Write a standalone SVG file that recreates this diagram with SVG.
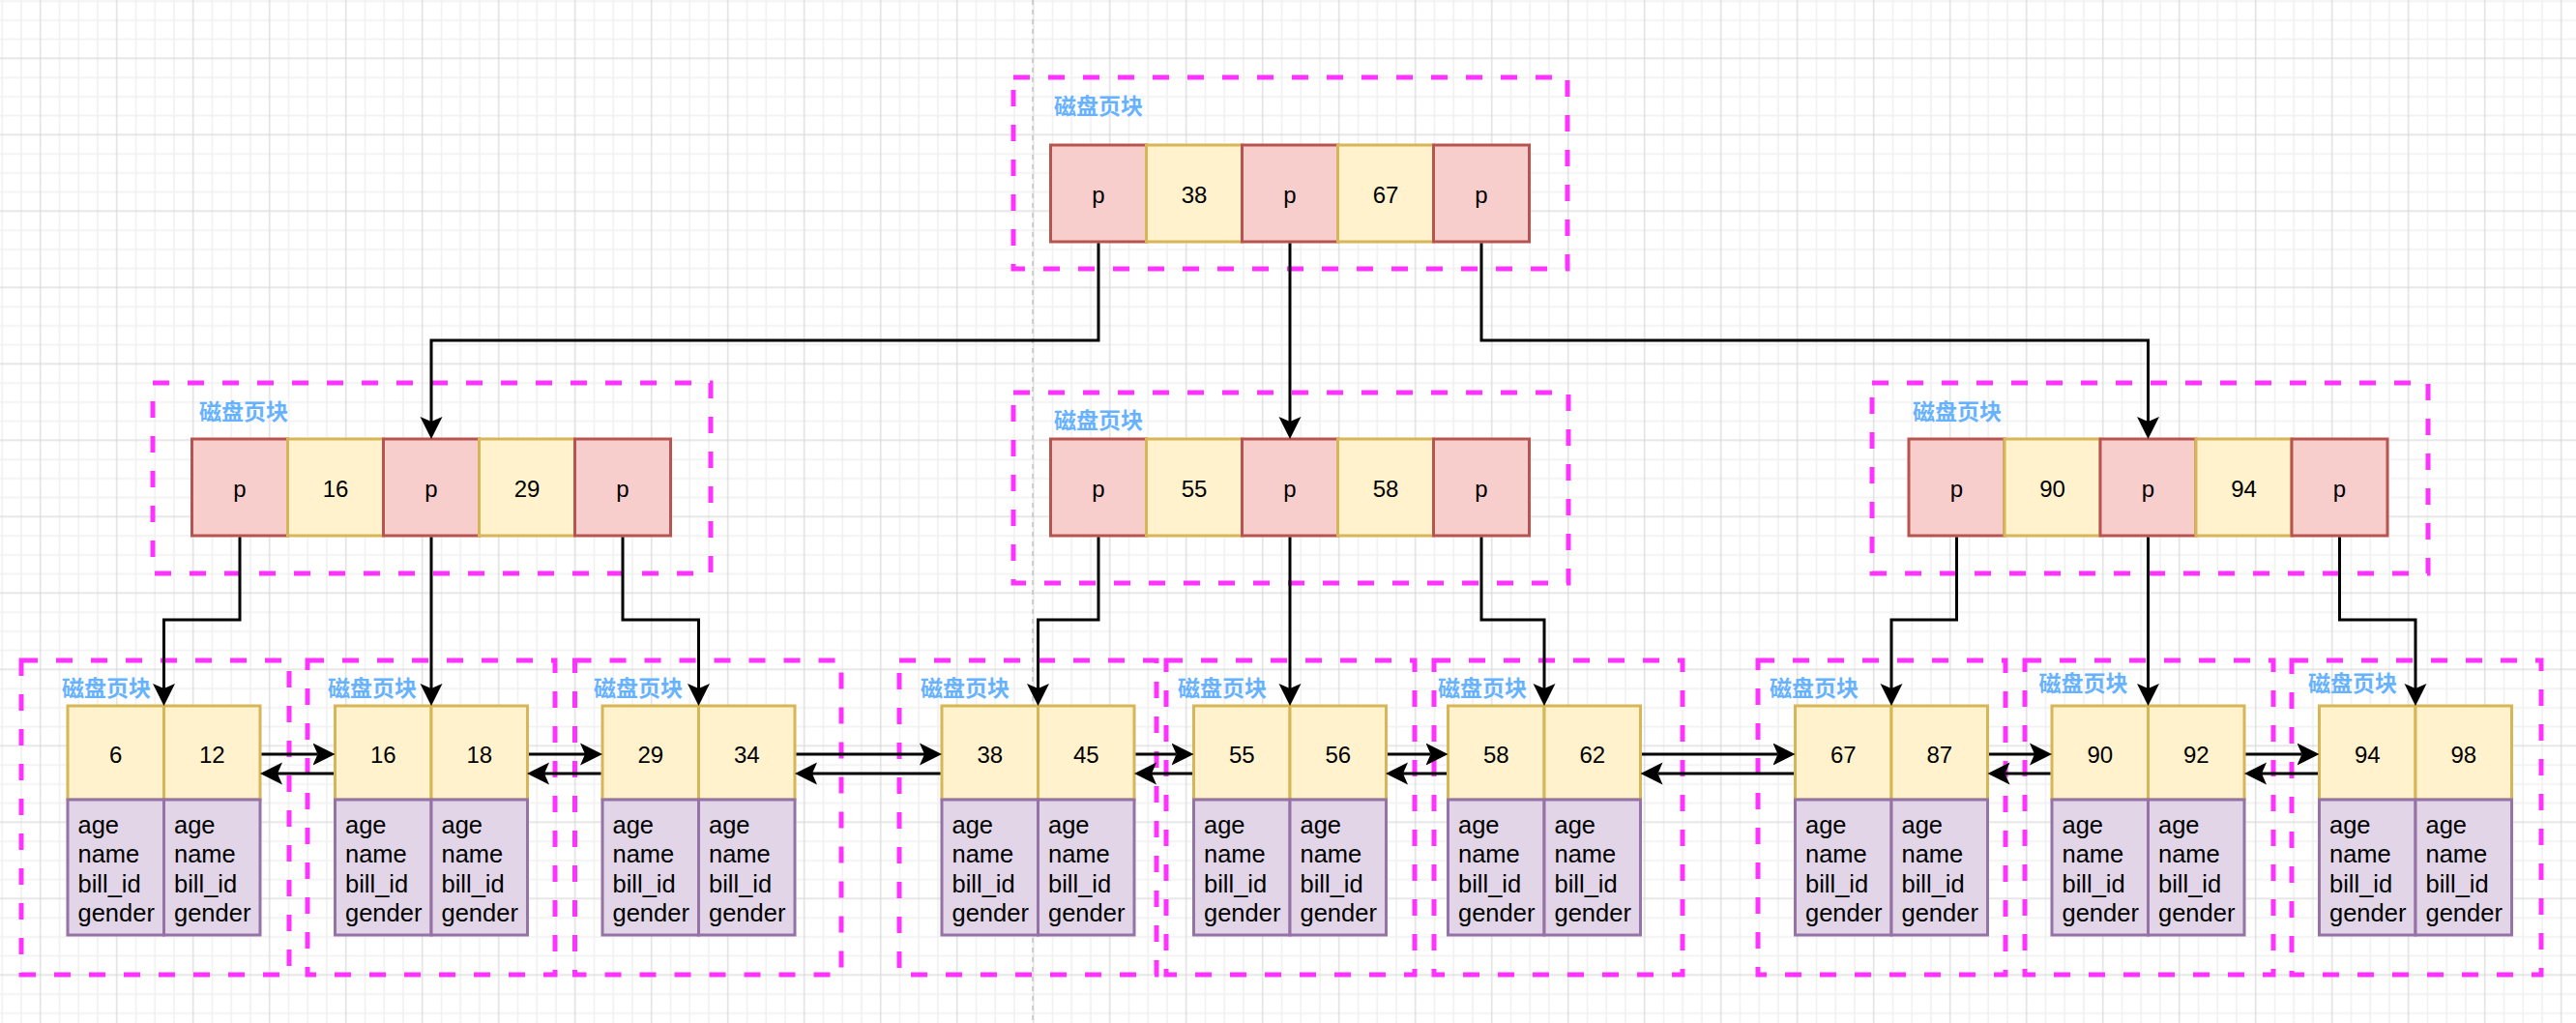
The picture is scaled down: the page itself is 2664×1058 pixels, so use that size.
<svg xmlns="http://www.w3.org/2000/svg" width="2664" height="1058" viewBox="0 0 2664 1058">
<defs>
<style>
.page{fill:none;stroke:#ff33ff;stroke-width:5;stroke-dasharray:17 19}
.lbl{font-family:"Noto Sans CJK SC","Noto Sans",sans-serif;font-weight:bold;font-size:23px;fill:#66b2ff}
.p{fill:#f8cecc;stroke:#b85450;stroke-width:3}
.k{fill:#fff2cc;stroke:#d6b656;stroke-width:3}
.d{fill:#e1d5e7;stroke:#9673a6;stroke-width:3}
.t{font-family:"Liberation Sans",Arial,sans-serif;font-size:24px;fill:#000;text-anchor:middle}
.dt{font-family:"Liberation Sans",Arial,sans-serif;font-size:25.5px;fill:#000}
.c{fill:none;stroke:#000;stroke-width:3;marker-end:url(#arr)}
</style>
<pattern id="grid" patternUnits="userSpaceOnUse" x="31.825" y="50.425" width="79" height="79">
<path d="M29.625 0V79M49.375 0V79M69.125 0V79M0 29.625H79M0 49.375H79M0 69.125H79" stroke="#f0f0f0" stroke-width="1.5" fill="none"/>
<path d="M9.875 0V79M0 9.875H79" stroke="#d9d9d9" stroke-width="1.2" fill="none"/>
</pattern>
<marker id="arr" markerUnits="userSpaceOnUse" viewBox="0 -12 24 24" markerWidth="24" markerHeight="24" refX="5" refY="0" orient="auto">
<path d="M0,-11.5 L23,0 L0,11.5 L5,0 Z" fill="#000"/>
</marker>
</defs>
<rect width="2664" height="1058" fill="#ffffff"/>
<rect width="2664" height="1058" fill="url(#grid)"/>
<line x1="1068" y1="0" x2="1068" y2="1058" stroke="#c4c4c4" stroke-width="1.5" stroke-dasharray="5 5"/>

<g id="root">
<rect class="page" x="1048" y="80" width="573" height="198"/>
<text class="lbl" x="1090" y="118">磁盘页块</text>
<rect class="p" x="1086.5" y="150" width="99" height="100"/>
<rect class="k" x="1185.5" y="150" width="99" height="100"/>
<rect class="p" x="1284.5" y="150" width="99" height="100"/>
<rect class="k" x="1383.5" y="150" width="99" height="100"/>
<rect class="p" x="1482.5" y="150" width="99" height="100"/>
<text class="t" x="1136" y="210">p</text>
<text class="t" x="1235" y="210">38</text>
<text class="t" x="1334" y="210">p</text>
<text class="t" x="1433" y="210">67</text>
<text class="t" x="1532" y="210">p</text>
</g>

<g id="l2-left">
<rect class="page" x="158" y="396" width="577" height="197"/>
<text class="lbl" x="206" y="434">磁盘页块</text>
<rect class="p" x="198.5" y="454" width="99" height="100"/>
<rect class="k" x="297.5" y="454" width="99" height="100"/>
<rect class="p" x="396.5" y="454" width="99" height="100"/>
<rect class="k" x="495.5" y="454" width="99" height="100"/>
<rect class="p" x="594.5" y="454" width="99" height="100"/>
<text class="t" x="248" y="514">p</text>
<text class="t" x="347" y="514">16</text>
<text class="t" x="446" y="514">p</text>
<text class="t" x="545" y="514">29</text>
<text class="t" x="644" y="514">p</text>
</g>

<g id="l2-mid">
<rect class="page" x="1048" y="406" width="574" height="197"/>
<text class="lbl" x="1090" y="443">磁盘页块</text>
<rect class="p" x="1086.5" y="454" width="99" height="100"/>
<rect class="k" x="1185.5" y="454" width="99" height="100"/>
<rect class="p" x="1284.5" y="454" width="99" height="100"/>
<rect class="k" x="1383.5" y="454" width="99" height="100"/>
<rect class="p" x="1482.5" y="454" width="99" height="100"/>
<text class="t" x="1136" y="514">p</text>
<text class="t" x="1235" y="514">55</text>
<text class="t" x="1334" y="514">p</text>
<text class="t" x="1433" y="514">58</text>
<text class="t" x="1532" y="514">p</text>
</g>

<g id="l2-right">
<rect class="page" x="1936" y="396" width="575" height="197"/>
<text class="lbl" x="1978" y="434">磁盘页块</text>
<rect class="p" x="1974" y="454" width="99" height="100"/>
<rect class="k" x="2073" y="454" width="99" height="100"/>
<rect class="p" x="2172" y="454" width="99" height="100"/>
<rect class="k" x="2271" y="454" width="99" height="100"/>
<rect class="p" x="2370" y="454" width="99" height="100"/>
<text class="t" x="2023.5" y="514">p</text>
<text class="t" x="2122.5" y="514">90</text>
<text class="t" x="2221.5" y="514">p</text>
<text class="t" x="2320.5" y="514">94</text>
<text class="t" x="2419.5" y="514">p</text>
</g>

<g id="leaf1">
<rect class="page" x="22" y="683" width="277" height="325"/>
<text class="lbl" x="64" y="720">磁盘页块</text>
<rect class="k" x="70" y="730" width="99.5" height="97"/>
<rect class="k" x="169.5" y="730" width="99.5" height="97"/>
<rect class="d" x="70" y="827" width="99.5" height="140"/>
<rect class="d" x="169.5" y="827" width="99.5" height="140"/>
<text class="t" x="119.75" y="789">6</text>
<text class="t" x="219.25" y="789">12</text>
<text class="dt" y="861.5"><tspan x="80.5">age</tspan><tspan x="80.5" dy="30.5">name</tspan><tspan x="80.5" dy="30.5">bill_id</tspan><tspan x="80.5" dy="30.5">gender</tspan></text>
<text class="dt" y="861.5"><tspan x="180">age</tspan><tspan x="180" dy="30.5">name</tspan><tspan x="180" dy="30.5">bill_id</tspan><tspan x="180" dy="30.5">gender</tspan></text>
</g>

<g id="leaf2">
<rect class="page" x="318" y="683" width="256" height="325"/>
<text class="lbl" x="339" y="720">磁盘页块</text>
<rect class="k" x="346.5" y="730" width="99.5" height="97"/>
<rect class="k" x="446" y="730" width="99.5" height="97"/>
<rect class="d" x="346.5" y="827" width="99.5" height="140"/>
<rect class="d" x="446" y="827" width="99.5" height="140"/>
<text class="t" x="396.25" y="789">16</text>
<text class="t" x="495.75" y="789">18</text>
<text class="dt" y="861.5"><tspan x="357">age</tspan><tspan x="357" dy="30.5">name</tspan><tspan x="357" dy="30.5">bill_id</tspan><tspan x="357" dy="30.5">gender</tspan></text>
<text class="dt" y="861.5"><tspan x="456.5">age</tspan><tspan x="456.5" dy="30.5">name</tspan><tspan x="456.5" dy="30.5">bill_id</tspan><tspan x="456.5" dy="30.5">gender</tspan></text>
</g>

<g id="leaf3">
<rect class="page" x="594.5" y="683" width="275.5" height="325"/>
<text class="lbl" x="614" y="720">磁盘页块</text>
<rect class="k" x="623" y="730" width="99.5" height="97"/>
<rect class="k" x="722.5" y="730" width="99.5" height="97"/>
<rect class="d" x="623" y="827" width="99.5" height="140"/>
<rect class="d" x="722.5" y="827" width="99.5" height="140"/>
<text class="t" x="672.75" y="789">29</text>
<text class="t" x="772.25" y="789">34</text>
<text class="dt" y="861.5"><tspan x="633.5">age</tspan><tspan x="633.5" dy="30.5">name</tspan><tspan x="633.5" dy="30.5">bill_id</tspan><tspan x="633.5" dy="30.5">gender</tspan></text>
<text class="dt" y="861.5"><tspan x="733">age</tspan><tspan x="733" dy="30.5">name</tspan><tspan x="733" dy="30.5">bill_id</tspan><tspan x="733" dy="30.5">gender</tspan></text>
</g>

<g id="leaf4">
<rect class="page" x="930" y="683" width="266" height="325"/>
<text class="lbl" x="952" y="720">磁盘页块</text>
<rect class="k" x="974" y="730" width="99.5" height="97"/>
<rect class="k" x="1073.5" y="730" width="99.5" height="97"/>
<rect class="d" x="974" y="827" width="99.5" height="140"/>
<rect class="d" x="1073.5" y="827" width="99.5" height="140"/>
<text class="t" x="1023.75" y="789">38</text>
<text class="t" x="1123.25" y="789">45</text>
<text class="dt" y="861.5"><tspan x="984.5">age</tspan><tspan x="984.5" dy="30.5">name</tspan><tspan x="984.5" dy="30.5">bill_id</tspan><tspan x="984.5" dy="30.5">gender</tspan></text>
<text class="dt" y="861.5"><tspan x="1084">age</tspan><tspan x="1084" dy="30.5">name</tspan><tspan x="1084" dy="30.5">bill_id</tspan><tspan x="1084" dy="30.5">gender</tspan></text>
</g>

<g id="leaf5">
<rect class="page" x="1206" y="683" width="257" height="325"/>
<text class="lbl" x="1218" y="720">磁盘页块</text>
<rect class="k" x="1234.5" y="730" width="99.5" height="97"/>
<rect class="k" x="1334" y="730" width="99.5" height="97"/>
<rect class="d" x="1234.5" y="827" width="99.5" height="140"/>
<rect class="d" x="1334" y="827" width="99.5" height="140"/>
<text class="t" x="1284.25" y="789">55</text>
<text class="t" x="1383.75" y="789">56</text>
<text class="dt" y="861.5"><tspan x="1245">age</tspan><tspan x="1245" dy="30.5">name</tspan><tspan x="1245" dy="30.5">bill_id</tspan><tspan x="1245" dy="30.5">gender</tspan></text>
<text class="dt" y="861.5"><tspan x="1344.5">age</tspan><tspan x="1344.5" dy="30.5">name</tspan><tspan x="1344.5" dy="30.5">bill_id</tspan><tspan x="1344.5" dy="30.5">gender</tspan></text>
</g>

<g id="leaf6">
<rect class="page" x="1483" y="683" width="257" height="325"/>
<text class="lbl" x="1487" y="720">磁盘页块</text>
<rect class="k" x="1497.5" y="730" width="99.5" height="97"/>
<rect class="k" x="1597" y="730" width="99.5" height="97"/>
<rect class="d" x="1497.5" y="827" width="99.5" height="140"/>
<rect class="d" x="1597" y="827" width="99.5" height="140"/>
<text class="t" x="1547.25" y="789">58</text>
<text class="t" x="1646.75" y="789">62</text>
<text class="dt" y="861.5"><tspan x="1508">age</tspan><tspan x="1508" dy="30.5">name</tspan><tspan x="1508" dy="30.5">bill_id</tspan><tspan x="1508" dy="30.5">gender</tspan></text>
<text class="dt" y="861.5"><tspan x="1607.5">age</tspan><tspan x="1607.5" dy="30.5">name</tspan><tspan x="1607.5" dy="30.5">bill_id</tspan><tspan x="1607.5" dy="30.5">gender</tspan></text>
</g>

<g id="leaf7">
<rect class="page" x="1818" y="683" width="256" height="325"/>
<text class="lbl" x="1830" y="720">磁盘页块</text>
<rect class="k" x="1856.5" y="730" width="99.5" height="97"/>
<rect class="k" x="1956" y="730" width="99.5" height="97"/>
<rect class="d" x="1856.5" y="827" width="99.5" height="140"/>
<rect class="d" x="1956" y="827" width="99.5" height="140"/>
<text class="t" x="1906.25" y="789">67</text>
<text class="t" x="2005.75" y="789">87</text>
<text class="dt" y="861.5"><tspan x="1867">age</tspan><tspan x="1867" dy="30.5">name</tspan><tspan x="1867" dy="30.5">bill_id</tspan><tspan x="1867" dy="30.5">gender</tspan></text>
<text class="dt" y="861.5"><tspan x="1966.5">age</tspan><tspan x="1966.5" dy="30.5">name</tspan><tspan x="1966.5" dy="30.5">bill_id</tspan><tspan x="1966.5" dy="30.5">gender</tspan></text>
</g>

<g id="leaf8">
<rect class="page" x="2094" y="683" width="257" height="325"/>
<text class="lbl" x="2108.5" y="715">磁盘页块</text>
<rect class="k" x="2122" y="730" width="99.5" height="97"/>
<rect class="k" x="2221.5" y="730" width="99.5" height="97"/>
<rect class="d" x="2122" y="827" width="99.5" height="140"/>
<rect class="d" x="2221.5" y="827" width="99.5" height="140"/>
<text class="t" x="2171.75" y="789">90</text>
<text class="t" x="2271.25" y="789">92</text>
<text class="dt" y="861.5"><tspan x="2132.5">age</tspan><tspan x="2132.5" dy="30.5">name</tspan><tspan x="2132.5" dy="30.5">bill_id</tspan><tspan x="2132.5" dy="30.5">gender</tspan></text>
<text class="dt" y="861.5"><tspan x="2232">age</tspan><tspan x="2232" dy="30.5">name</tspan><tspan x="2232" dy="30.5">bill_id</tspan><tspan x="2232" dy="30.5">gender</tspan></text>
</g>

<g id="leaf9">
<rect class="page" x="2370" y="683" width="258" height="325"/>
<text class="lbl" x="2387" y="715">磁盘页块</text>
<rect class="k" x="2398.5" y="730" width="99.5" height="97"/>
<rect class="k" x="2498" y="730" width="99.5" height="97"/>
<rect class="d" x="2398.5" y="827" width="99.5" height="140"/>
<rect class="d" x="2498" y="827" width="99.5" height="140"/>
<text class="t" x="2448.25" y="789">94</text>
<text class="t" x="2547.75" y="789">98</text>
<text class="dt" y="861.5"><tspan x="2409">age</tspan><tspan x="2409" dy="30.5">name</tspan><tspan x="2409" dy="30.5">bill_id</tspan><tspan x="2409" dy="30.5">gender</tspan></text>
<text class="dt" y="861.5"><tspan x="2508.5">age</tspan><tspan x="2508.5" dy="30.5">name</tspan><tspan x="2508.5" dy="30.5">bill_id</tspan><tspan x="2508.5" dy="30.5">gender</tspan></text>
</g>

<g id="connectors">
<path class="c" d="M1136 251.5V352H446V436"/>
<path class="c" d="M1334 251.5V436"/>
<path class="c" d="M1532 251.5V352H2221.5V436"/>
<path class="c" d="M248 555.5V641H169.5V712"/>
<path class="c" d="M446 555.5V712"/>
<path class="c" d="M644 555.5V641H722.5V712"/>
<path class="c" d="M1136 555.5V641H1073.5V712"/>
<path class="c" d="M1334 555.5V712"/>
<path class="c" d="M1532 555.5V641H1597V712"/>
<path class="c" d="M2023.5 555.5V641H1956V712"/>
<path class="c" d="M2221.5 555.5V712"/>
<path class="c" d="M2419.5 555.5V641H2498V712"/>
<path class="c" d="M270.5 780H328.5"/>
<path class="c" d="M345 800H287"/>
<path class="c" d="M547 780H605"/>
<path class="c" d="M621.5 800H563"/>
<path class="c" d="M823.5 780H956"/>
<path class="c" d="M972.5 800H840"/>
<path class="c" d="M1174.5 780H1216.5"/>
<path class="c" d="M1233 800H1191"/>
<path class="c" d="M1435 780H1479.5"/>
<path class="c" d="M1496 800H1451"/>
<path class="c" d="M1698 780H1838.5"/>
<path class="c" d="M1855 800H1714.5"/>
<path class="c" d="M2057 780H2104"/>
<path class="c" d="M2120.5 800H2073.5"/>
<path class="c" d="M2322.5 780H2380.5"/>
<path class="c" d="M2397 800H2339"/>
</g>
</svg>
